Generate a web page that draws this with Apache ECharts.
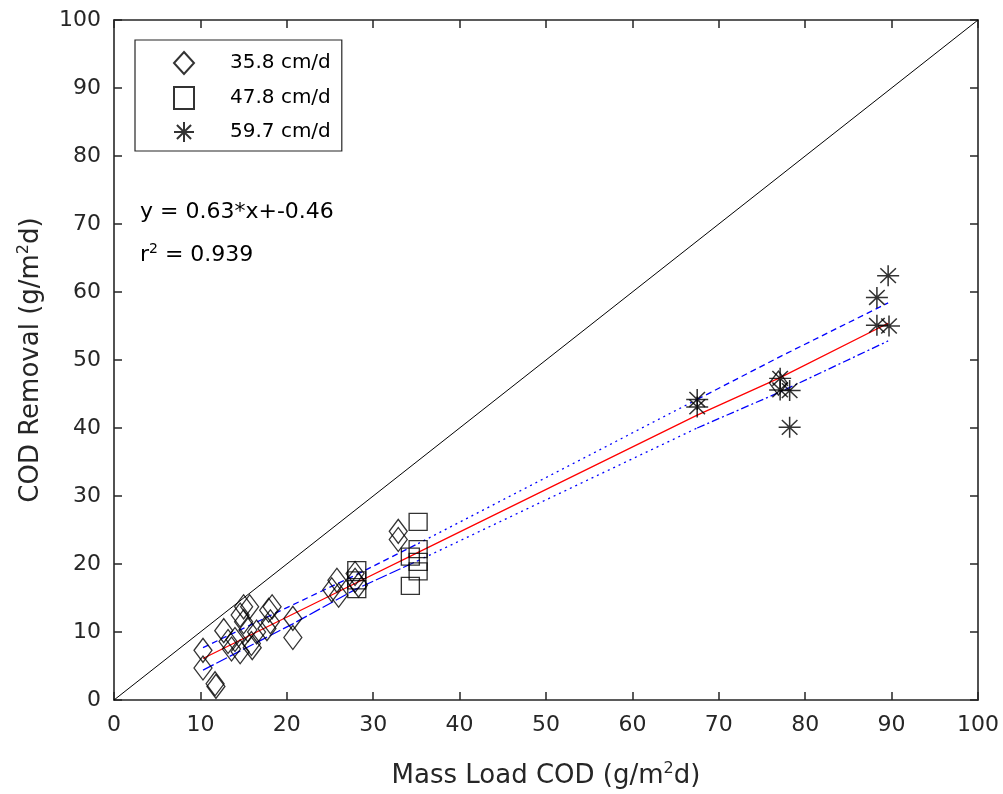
<!DOCTYPE html>
<html>
<head>
<meta charset="utf-8">
<script src="https://cdn.jsdelivr.net/npm/echarts@6/dist/echarts.min.js"></script>
<style>html,body{margin:0;padding:0;background:#fff}#c{width:1003px;height:794px}</style>
</head>
<body>
<div id="c"></div>
<script>
// ---- data ----
const seriesNames = ['35.8 cm/d', '47.8 cm/d', '59.7 cm/d'];
const load358 = [10.3, 10.3, 11.7, 11.8, 12.7, 13.2, 13.6, 14.6, 14.0, 15.0, 15.7, 14.6, 15.0, 15.5, 15.9, 16.0, 16.5, 17.9, 18.3, 18.1, 17.7, 20.7, 20.7, 25.8, 25.2, 26.0, 27.9, 27.9, 28.3, 32.9, 32.9, 76.9];
const rem358  = [7.3, 4.7, 2.4, 2.0, 10.2, 8.6, 7.5, 7.1, 8.9, 13.7, 13.7, 12.5, 11.5, 10.3, 8.3, 7.7, 10.0, 13.2, 13.7, 11.5, 10.5, 12.0, 9.2, 17.6, 16.2, 15.4, 18.6, 17.6, 16.9, 24.8, 23.6, 46.6];
const load478 = [35.2, 35.2, 34.3, 35.2, 35.2, 34.3, 28.1, 28.1, 28.1];
const rem478  = [26.2, 22.2, 21.1, 20.3, 18.9, 16.8, 19.1, 17.6, 16.3];
const load597 = [89.6, 88.3, 88.3, 89.7, 77.1, 77.1, 78.2, 78.2, 67.5, 67.5];
const rem597  = [62.4, 59.2, 55.1, 55.0, 47.3, 45.6, 45.5, 40.1, 44.2, 43.1];
const fitX    = [10.3, 28.0, 35.2, 67.5, 77.1, 89.6];
const fitY    = [6.1, 17.2, 21.7, 41.9, 47.4, 55.4];
const bandX   = [10.3, 20.7, 28.0, 35.2, 67.5, 77.1, 89.6];
const upperY  = [7.7, 14.0, 18.4, 23.0, 44.2, 50.5, 58.4];
const lowerY  = [4.4, 11.2, 16.3, 20.5, 40.0, 45.3, 52.8];
const diagX   = [0, 100];
const diagY   = [0, 100];
const eqText  = 'y = 0.63*x+-0.46';
const r2Text  = '0.939';

const zip = (a, b) => a.map((v, i) => [v, b[i]]);
const sub = (a, b, i0, i1) => zip(a, b).slice(i0, i1 + 1);

const FONT = "'DejaVu Sans', 'Liberation Sans', Arial, sans-serif";
const AX = '#262626';
const star = 'path://M0,-10L0,10M-10,0L10,0M-7.07,-7.07L7.07,7.07M-7.07,7.07L7.07,-7.07';

const axisBase = (pos, show, margin) => ({
  type: 'value', min: 0, max: 100, interval: 10, position: pos,
  axisLine: {show: true, onZero: false, lineStyle: {color: AX, width: 1.6}},
  axisTick: {show: true, inside: true, length: 8, lineStyle: {color: AX, width: 1.5}},
  axisLabel: {show: show, color: AX, fontSize: 22, fontFamily: FONT, margin: margin},
  splitLine: {show: false}
});

const sc = {color: 'transparent', borderColor: '#000', borderWidth: 1.3};

const chart = echarts.init(document.getElementById('c'), null, {renderer: 'canvas'});
const nameRich = {
  a: {fontSize: 26, fontFamily: FONT, color: AX},
  s: {fontSize: 16, fontFamily: FONT, color: AX, padding: [0, 0, 14, 0]}
};
const option = {
  animation: false,
  backgroundColor: '#fff',
  grid: {left: 114, right: 25, top: 20, bottom: 94},
  xAxis: [
    Object.assign(axisBase('bottom', true, 14), {
      name: '{a|Mass Load COD (g/m}{s|2}{a|d)}', nameLocation: 'middle', nameGap: 61,
      nameTextStyle: {rich: nameRich}
    }),
    axisBase('top', false, 10)
  ],
  yAxis: [
    Object.assign(axisBase('left', true, 13), {
      name: '{a|COD Removal (g/m}{s|2}{a|d)}', nameLocation: 'middle', nameGap: 68,
      nameTextStyle: {rich: nameRich}
    }),
    axisBase('right', false, 10)
  ],
  legend: {
    orient: 'vertical', left: 135, top: 40,
    padding: [11, 11, 8, 38],
    itemWidth: 20, itemHeight: 22, itemGap: 11,
    borderColor: AX, borderWidth: 1.2, backgroundColor: '#fff',
    textStyle: {fontSize: 20, fontFamily: FONT, color: '#000', padding: [0, 0, 0, 31]},
    data: seriesNames
  },
  graphic: [
    {type: 'text', left: 140, top: 201, style: {text: eqText, font: '22px ' + FONT, fill: '#000'}},
    {type: 'text', left: 140, top: 242, style: {
      text: '{a|r}{s|2}{a| = ' + r2Text + '}',
      rich: {a: {fontSize: 22, fontFamily: FONT, color: '#000'},
             s: {fontSize: 14, fontFamily: FONT, color: '#000', padding: [0, 0, 13, 0]}}
    }}
  ],
  series: [
    {type: 'line', data: zip(diagX, diagY), symbol: 'none', silent: true,
     lineStyle: {color: '#000', width: 1}, z: 1},
    {type: 'line', data: zip(fitX, fitY), symbol: 'none', lineStyle: {color: '#ff0000', width: 1.3}, z: 3},
    {type: 'line', data: sub(bandX, upperY, 0, 3), symbol: 'none', lineStyle: {color: '#0000ff', width: 1.3, type: [6, 4]}, z: 3},
    {type: 'line', data: sub(bandX, upperY, 3, 4), symbol: 'none', lineStyle: {color: '#0000ff', width: 1.3, type: [2, 4]}, z: 3},
    {type: 'line', data: sub(bandX, upperY, 4, 6), symbol: 'none', lineStyle: {color: '#0000ff', width: 1.3, type: [6, 4]}, z: 3},
    {type: 'line', data: sub(bandX, lowerY, 0, 3), symbol: 'none', lineStyle: {color: '#0000ff', width: 1.3, type: [12, 3]}, z: 3},
    {type: 'line', data: sub(bandX, lowerY, 3, 4), symbol: 'none', lineStyle: {color: '#0000ff', width: 1.3, type: [2, 4]}, z: 3},
    {type: 'line', data: sub(bandX, lowerY, 4, 6), symbol: 'none', lineStyle: {color: '#0000ff', width: 1.3, type: [8, 3, 2, 3]}, z: 3},
    {name: seriesNames[0], type: 'scatter', data: zip(load358, rem358), symbol: 'diamond', symbolSize: [18, 24], itemStyle: sc, z: 4},
    {name: seriesNames[1], type: 'scatter', data: zip(load478, rem478), symbol: 'rect', symbolSize: [18, 17], itemStyle: sc, z: 4},
    {name: seriesNames[2], type: 'scatter', data: zip(load597, rem597), symbol: star, symbolSize: [22, 21], itemStyle: {color: 'transparent', borderColor: '#000', borderWidth: 1.5}, z: 4}
  ]
};
chart.setOption(option);
</script>
</body>
</html>
